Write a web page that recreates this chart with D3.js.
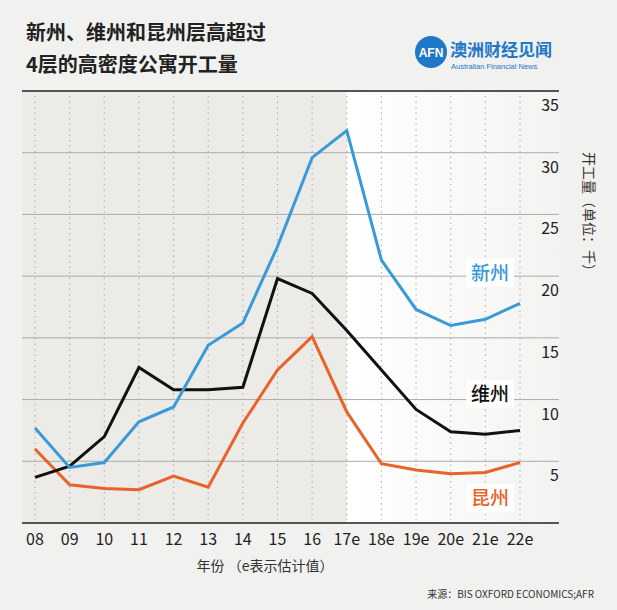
<!DOCTYPE html>
<html>
<head>
<meta charset="utf-8">
<script src="https://cdn.jsdelivr.net/npm/d3@7"></script>
<style>
  body { margin: 0; background: #f1f1ef; }
  svg { font-family: "Noto Sans CJK SC", "Open Sans", sans-serif; }
</style>
</head>
<body>
<svg id="chart" width="617" height="610"></svg>
<script>
const years = ['08','09','10','11','12','13','14','15','16','17e','18e','19e','20e','21e','22e'];
const nsw = [7.7, 4.5, 4.9, 8.2, 9.4, 14.4, 16.2, 22.4, 29.6, 31.8, 21.3, 17.3, 16.0, 16.5, 17.8];
const vic = [3.7, 4.6, 7.0, 12.6, 10.8, 10.8, 11.0, 19.8, 18.6, 15.6, 12.4, 9.2, 7.4, 7.2, 7.5];
const qld = [6.0, 3.1, 2.8, 2.7, 3.8, 2.9, 8.1, 12.4, 15.1, 9.0, 4.8, 4.3, 4.0, 4.1, 4.9];
const yTicks = [5, 10, 15, 20, 25, 30, 35];

const svg = d3.select('#chart');
const x = d3.scalePoint().domain(years).range([35, 520]);
const y = d3.scaleLinear().domain([0, 35]).range([523, 91]);
const L = 22, R = 559;

// shaded area / forecast area
const grad = svg.append('defs').append('linearGradient').attr('id', 'fc');
grad.append('stop').attr('offset', '0%').attr('stop-color', '#ffffff');
grad.append('stop').attr('offset', '100%').attr('stop-color', '#f3f3f1');
svg.append('rect').attr('x', L).attr('y', 91).attr('width', x('17e') - L).attr('height', 432).attr('fill', '#ecebe8');
svg.append('rect').attr('x', x('17e')).attr('y', 91).attr('width', R - x('17e')).attr('height', 432).attr('fill', 'url(#fc)');

// vertical dotted lines
svg.append('g').selectAll('line').data(years).enter().append('line')
  .attr('x1', d => x(d)).attr('x2', d => x(d)).attr('y1', 96).attr('y2', 520)
  .attr('stroke', '#aaa').attr('stroke-width', 1).attr('stroke-dasharray', '1.5,4');

// horizontal grid
svg.append('g').selectAll('line').data([5, 10, 15, 20, 25, 30]).enter().append('line')
  .attr('x1', L).attr('x2', R).attr('y1', d => y(d)).attr('y2', d => y(d))
  .attr('stroke', '#aaa').attr('stroke-width', 1);
svg.append('line').attr('x1', L).attr('x2', R).attr('y1', y(35)).attr('y2', y(35)).attr('stroke', '#555').attr('stroke-width', 2);
svg.append('line').attr('x1', L).attr('x2', R).attr('y1', y(0)).attr('y2', y(0)).attr('stroke', '#555').attr('stroke-width', 2);

svg.append('g').selectAll('text').data(yTicks).enter().append('text')
  .attr('x', R).attr('y', d => y(d) + 20).attr('text-anchor', 'end')
  .attr('font-size', 16).attr('fill', '#222').text(d => d);

svg.append('g').selectAll('text').data(years).enter().append('text')
  .attr('x', d => x(d)).attr('y', 545).attr('text-anchor', 'middle')
  .attr('font-size', 16).attr('fill', '#222').text(d => d);

const line = d3.line().x((d, i) => x(years[i])).y(d => y(d));
[[qld, '#e8622a'], [vic, '#111'], [nsw, '#3a9ad8']].forEach(([s, c]) => {
  svg.append('path').datum(s).attr('d', line).attr('fill', 'none')
    .attr('stroke', c).attr('stroke-width', 3).attr('stroke-linejoin', 'miter');
});

// series labels
[['新州', 280, '#3a9ad8'], ['维州', 401, '#111'], ['昆州', 505, '#e8622a']].forEach(([t, yy, c]) => {
  svg.append('rect').attr('x', 466).attr('y', yy - 21).attr('width', 48).attr('height', 28).attr('fill', '#fff').attr('opacity', 0.9);
  svg.append('text').attr('x', 490).attr('y', yy).attr('text-anchor', 'middle')
    .attr('font-size', 19).attr('font-weight', 500).attr('fill', c).text(t);
});

// right axis title
svg.append('text').attr('transform', 'translate(584,215) rotate(90)')
  .attr('text-anchor', 'middle').attr('font-size', 14).attr('fill', '#333').text('开工量（单位：千）');

// title
svg.append('text').attr('x', 26).attr('y', 40).attr('font-size', 20).attr('font-weight', 700).attr('fill', '#222').text('新州、维州和昆州层高超过');
svg.append('text').attr('x', 26).attr('y', 72).attr('font-size', 20).attr('font-weight', 700).attr('fill', '#222').text('4层的高密度公寓开工量');

// logo
svg.append('circle').attr('cx', 431).attr('cy', 52).attr('r', 16).attr('fill', '#1f78c8');
svg.append('text').attr('x', 431).attr('y', 57).attr('text-anchor', 'middle').attr('font-size', 12).attr('font-weight', 700).attr('fill', '#fff').attr('font-family', 'Liberation Sans').text('AFN');
svg.append('text').attr('x', 450).attr('y', 56).attr('font-size', 17).attr('font-weight', 700).attr('fill', '#1f78c8').text('澳洲财经见闻');
svg.append('text').attr('x', 451).attr('y', 69).attr('font-size', 7.5).attr('fill', '#1f78c8').attr('font-family', 'Liberation Sans').text('Australian Financial News');

// footer
svg.append('text').attr('x', 265).attr('y', 571).attr('text-anchor', 'middle').attr('font-size', 14).attr('fill', '#333').text('年份 （e表示估计值）');
svg.append('text').attr('x', 594).attr('y', 598).attr('text-anchor', 'end').attr('font-size', 10).attr('fill', '#333').text('来源：BIS OXFORD ECONOMICS;AFR');
</script>
</body>
</html>
